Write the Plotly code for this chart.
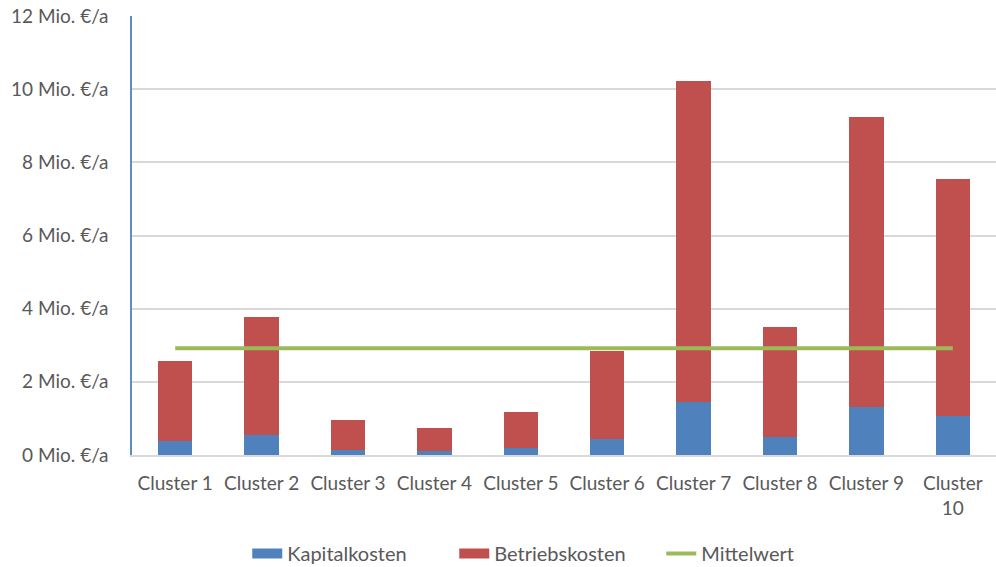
import plotly.graph_objects as go

# Kosten je Cluster in Mio. €/a
cluster = [f"Cluster {i}" for i in range(1, 10)] + ["Cluster<br>10"]
kapitalkosten = [0.39, 0.54, 0.14, 0.11, 0.18, 0.43, 1.46, 0.50, 1.31, 1.07]
betriebskosten = [2.19, 3.22, 0.83, 0.63, 0.99, 2.42, 8.76, 2.99, 7.92, 6.47]
mittelwert = [2.92] * len(cluster)
y_ticks = [0, 2, 4, 6, 8, 10, 12]
y_labels = [f"{v} Mio. €/a" for v in y_ticks]

FONT = "Lato"
GRAY = "#595959"
SIZE = 19
BLUE, RED, GREEN = "#4F81BD", "#C0504D", "#9BBB59"

fig = go.Figure()
fig.add_trace(go.Bar(
    x=cluster, y=kapitalkosten, name="Kapitalkosten",
    marker=dict(color=BLUE, line=dict(width=0)), showlegend=False,
))
fig.add_trace(go.Bar(
    x=cluster, y=betriebskosten, name="Betriebskosten",
    marker=dict(color=RED, line=dict(width=0)), showlegend=False,
))
fig.add_trace(go.Scatter(
    x=cluster, y=mittelwert, name="Mittelwert", mode="lines",
    line=dict(color=GREEN, width=4), showlegend=False,
))

# Legend entries drawn as wide swatches
for name, color, width in [("Kapitalkosten", BLUE, 12),
                           ("Betriebskosten", RED, 12),
                           ("Mittelwert", GREEN, 4)]:
    fig.add_trace(go.Scatter(
        x=[None], y=[None], mode="lines", name=name,
        line=dict(color=color, width=width), hoverinfo="skip",
    ))

fig.update_layout(
    width=996, height=567,
    barmode="stack", bargap=0.6,
    plot_bgcolor="white", paper_bgcolor="white",
    margin=dict(l=132, r=0, t=16, b=112),
    font=dict(family=FONT, size=SIZE, color=GRAY),
    legend=dict(
        orientation="h", traceorder="normal",
        xref="container", x=0.56, xanchor="center",
        yref="container", y=0.024, yanchor="middle",
        font=dict(family=FONT, size=20, color=GRAY),
        itemwidth=30, entrywidth=162, entrywidthmode="pixels",
    ),
    xaxis=dict(
        automargin=False,
        showgrid=False, showline=True, linecolor="#D9D9D9", linewidth=2,
        ticks="", tickfont=dict(family=FONT, size=SIZE, color=GRAY),
        ticklabelstandoff=10,
    ),
    yaxis=dict(
        automargin=False,
        range=[0, 12], tickvals=y_ticks, ticktext=y_labels,
        showgrid=True, gridcolor="#D9D9D9", gridwidth=1.5,
        zeroline=False, showline=True, linecolor="#5B8DBE", linewidth=1.5,
        ticks="", tickfont=dict(family=FONT, size=SIZE, color=GRAY),
        ticklabelstandoff=18,
    ),
)

fig.write_html("out.html")
